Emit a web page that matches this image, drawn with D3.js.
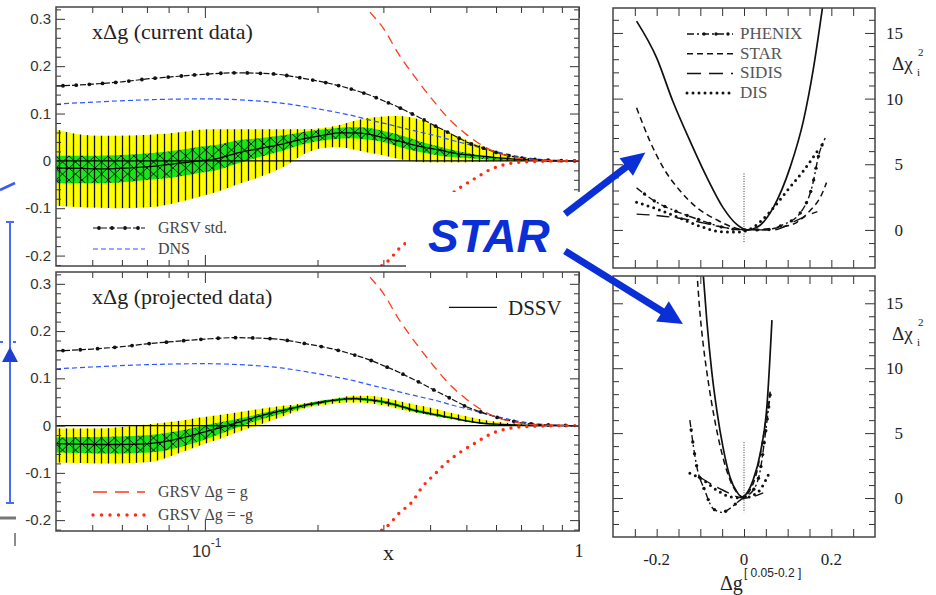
<!DOCTYPE html>
<html>
<head>
<meta charset="utf-8">
<title>x&Delta;g and &Delta;&chi;&sup2; profiles</title>
<script src="https://cdn.jsdelivr.net/npm/d3@7/dist/d3.min.js"></script>
<style>
  body { margin: 0; background: #fff; }
  svg { display: block; }
  text.serif { font-family: "Liberation Serif", "DejaVu Serif", "Times New Roman", serif; }
  text.sans, tspan.sans { font-family: "Liberation Sans", Arial, sans-serif; }
</style>
</head>
<body>
<svg id="chart" width="936" height="595"></svg>
<script>
const bandX = [0.04,0.047,0.052,0.058,0.071,0.087,0.097,0.108,0.124,0.14,0.162,0.187,0.21,0.229,0.25,0.271,0.3,0.33,0.36,0.39,0.425,0.46,0.5,0.55,0.6,0.7,0.8,0.9,1.0];

// current data panel
const curYellowHi = [0.067,0.055,0.053,0.053,0.055,0.061,0.066,0.067,0.067,0.067,0.067,0.067,0.070,0.076,0.084,0.090,0.094,0.095,0.091,0.083,0.070,0.056,0.044,0.031,0.021,0.008,0.003,0.001,0];
const curYellowLo = [-0.095,-0.098,-0.099,-0.100,-0.098,-0.085,-0.075,-0.065,-0.048,-0.034,-0.013,0.017,0.028,0.029,0.024,0.018,0.012,0.004,-0.001,-0.003,-0.003,-0.003,-0.003,-0.002,-0.001,0,0,0,0];
const curGreenHi = [0.011,0.011,0.011,0.012,0.016,0.024,0.030,0.034,0.044,0.048,0.054,0.062,0.067,0.070,0.071,0.070,0.063,0.055,0.046,0.037,0.030,0.023,0.017,0.011,0.007,0.002,0.001,0,0];
const curGreenLo = [-0.047,-0.047,-0.047,-0.046,-0.040,-0.032,-0.025,-0.019,-0.004,0.008,0.022,0.037,0.044,0.047,0.048,0.045,0.040,0.030,0.022,0.016,0.011,0.008,0.006,0.004,0.002,0.001,0,0,0];
const curDssv = [-0.015,-0.016,-0.017,-0.016,-0.012,-0.004,0,0.005,0.018,0.026,0.036,0.048,0.055,0.059,0.059,0.057,0.049,0.042,0.034,0.028,0.023,0.017,0.013,0.010,0.007,0.003,0.001,0,0];

// projected data panel
const projYellowHi = [-0.006,-0.006,-0.006,-0.004,0.003,0.011,0.017,0.022,0.029,0.035,0.042,0.048,0.054,0.059,0.063,0.063,0.059,0.052,0.045,0.040,0.033,0.026,0.020,0.013,0.008,0.003,0.001,0,0];
const projYellowLo = [-0.078,-0.079,-0.080,-0.080,-0.077,-0.056,-0.042,-0.030,-0.012,0.002,0.020,0.038,0.044,0.048,0.049,0.048,0.043,0.035,0.028,0.024,0.018,0.013,0.008,0.004,0.002,0,0,0,0];
const projGreenHi = [-0.025,-0.024,-0.024,-0.023,-0.020,-0.010,-0.002,0.006,0.015,0.025,0.036,0.047,0.054,0.058,0.060,0.058,0.053,0.045,0.036,0.030,0.024,0.018,0.012,0.007,0.004,0.001,0,0,0];
const projGreenLo = [-0.057,-0.058,-0.059,-0.059,-0.057,-0.044,-0.033,-0.020,-0.002,0.012,0.026,0.040,0.048,0.052,0.054,0.052,0.047,0.039,0.030,0.024,0.018,0.014,0.008,0.004,0.002,0.001,0,0,0];
const projDssv = [-0.038,-0.039,-0.040,-0.040,-0.038,-0.026,-0.016,-0.006,0.008,0.020,0.032,0.044,0.051,0.055,0.057,0.055,0.050,0.042,0.033,0.027,0.021,0.016,0.010,0.005,0.003,0.001,0,0,0];

// model curves (same in both panels)
const grsvX = [0.04,0.05,0.06,0.07,0.08,0.1,0.12,0.15,0.19,0.22,0.25,0.28,0.3,0.33,0.35,0.38,0.41,0.44,0.47,0.5,0.55,0.6,0.7,0.8,0.9,1.0];
const grsvY = [0.158,0.162,0.167,0.173,0.177,0.183,0.186,0.184,0.172,0.162,0.150,0.137,0.127,0.113,0.103,0.089,0.075,0.063,0.051,0.040,0.028,0.018,0.006,0.002,0.0005,0];
const dnsX = [0.04,0.05,0.07,0.1,0.13,0.16,0.19,0.22,0.25,0.28,0.31,0.34,0.38,0.42,0.46,0.51,0.56,0.62,0.69,0.77,0.87,1.0];
const dnsY = [0.120,0.124,0.129,0.131,0.128,0.122,0.113,0.104,0.095,0.085,0.077,0.069,0.060,0.052,0.043,0.034,0.025,0.017,0.009,0.004,0.001,0];
const gPosX = [0.18,0.22,0.25,0.27,0.3,0.33,0.37,0.41,0.45,0.5,0.55,0.6,0.68,0.75,0.85,1.0];
const gPosY = [0.52,0.42,0.37,0.325,0.28,0.225,0.17,0.125,0.088,0.056,0.033,0.018,0.007,0.002,0.0005,0];
const gNegX = [0.27,0.29,0.31,0.33,0.36,0.38,0.41,0.44,0.48,0.53,0.58,0.64,0.72,0.8,0.9,1.0];
const gNegY = [-0.26,-0.228,-0.21,-0.186,-0.159,-0.131,-0.104,-0.080,-0.057,-0.036,-0.018,-0.007,-0.002,-0.001,0,0];

// delta chi2 profiles, current data
const totCurX = [-0.246,-0.2,-0.163,-0.124,-0.085,-0.048,-0.016,0.007,0.03,0.067,0.106,0.136,0.159,0.18];
const totCurY = [15.9,13.1,9.8,6.8,4.0,1.7,0.4,0,0.2,1.7,4.8,8.3,12.3,17];
const starCurX = [-0.246,-0.216,-0.186,-0.147,-0.108,-0.062,-0.025,0.007,0.044,0.083,0.122,0.152,0.175,0.189];
const starCurY = [9.3,6.8,4.8,3.0,1.7,0.76,0.2,0,0.05,0.2,0.6,1.5,2.5,3.6];
const phenixCurX = [-0.246,-0.2,-0.154,-0.101,-0.048,-0.002,0.044,0.09,0.129,0.156,0.172,0.186];
const phenixCurY = [3.2,2.1,1.4,0.76,0.2,0,0,0.4,1.3,3.3,5.8,7.0];
const sidisCurX = [-0.246,-0.2,-0.124,-0.048,0.007,0.067,0.113,0.145,0.168];
const sidisCurY = [1.2,1.1,0.76,0.2,0,0,0.6,1.1,1.4];
const disCurX = [-0.246,-0.2,-0.147,-0.094,-0.048,-0.009,0.021,0.06,0.099,0.136,0.17];
const disCurY = [2.1,1.6,0.9,0.2,-0.15,-0.15,0.2,1.4,3.0,4.5,6.1];

// delta chi2 profiles, projected data
const totProjX = [-0.094,-0.085,-0.074,-0.062,-0.048,-0.032,-0.016,-0.005,0.007,0.021,0.037,0.053,0.064];
const totProjY = [17.5,13.6,9.8,6.7,3.9,1.6,0.46,0.08,0.4,1.4,3.4,7.3,13.7];
const starProjX = [-0.108,-0.101,-0.094,-0.082,-0.067,-0.048,-0.032,-0.016,-0.002,0.014,0.03,0.044,0.06];
const starProjY = [17.5,14.3,12,9,6,3.1,1.4,0.4,0.08,0.6,2.1,4.7,8.2];
const phenixProjX = [-0.124,-0.108,-0.09,-0.071,-0.051,-0.032,-0.014,-0.002,0.021,0.037,0.048,0.06];
const phenixProjY = [6,2.4,0.6,-0.8,-1.1,-0.8,-0.3,0,0.6,2.1,4.7,8.0];
const sidisProjX = [-0.101,-0.048,0,0.044];
const sidisProjY = [1.6,0.6,0,0.4];
const disProjX = [-0.124,-0.094,-0.062,-0.032,-0.002,0.03,0.06];
const disProjY = [1.9,1.4,0.6,0.1,0,0.4,2.1];

// tick labels
const pdfYLabels = [-0.2,-0.1,0,0.1,0.2,0.3];
const chiYLabels = [0,5,10,15];
const chiXLabels = [-0.2,0,0.2];

const svg = d3.select('#chart');
const defs = svg.append('defs');

const xLog = d3.scaleLog().domain([0.04, 1]).range([56, 579]);
const yCur = d3.scaleLinear().domain([-0.222, 0.325]).range([266, 7]);
const yProj = d3.scaleLinear().domain([-0.223, 0.325]).range([531, 272]);
const xChi = d3.scaleLinear().domain([-0.3, 0.3]).range([613, 875]);
const yChiCur = d3.scaleLinear().domain([-2.9, 16.9]).range([268, 8]);
const yChiProj = d3.scaleLinear().domain([-3.0, 17.1]).range([537, 276]);

const zip = (xs, ys) => xs.map((x, i) => [x, ys[i]]);

// hatch patterns
let vp = defs.append('pattern').attr('id', 'vhatch').attr('patternUnits', 'userSpaceOnUse')
    .attr('width', 7).attr('height', 10).attr('x', 56);
vp.append('line').attr('x1', 3.5).attr('x2', 3.5).attr('y1', 0).attr('y2', 10)
    .attr('stroke', '#111').attr('stroke-width', 1.3);
let xp = defs.append('pattern').attr('id', 'xhatch').attr('patternUnits', 'userSpaceOnUse')
    .attr('width', 13).attr('height', 12).attr('x', 56);
xp.append('rect').attr('width', 13).attr('height', 12).attr('fill', '#18e618');
xp.append('path').attr('d', 'M0,0L13,12M13,0L0,12').attr('stroke', '#000').attr('stroke-width', 0.8);

let dotsAlong = (g, node, step, offset, r, color) => {
    const len = node.getTotalLength();
    const pts = d3.range(offset, len, step).map(s => node.getPointAtLength(s));
    g.selectAll(null).data(pts).enter().append('circle')
        .attr('cx', p => p.x).attr('cy', p => p.y).attr('r', r).attr('fill', color);
};

// frame + inward ticks on all four sides
let frame = (x, y, o) => {
    const g = svg.append('g');
    const [x0, x1] = x.range(), [yb, yt] = y.range();
    const ticks = (axisFn, scale, values, len, tx, ty) => {
        g.append('g').attr('transform', `translate(${tx},${ty})`)
            .call(axisFn(scale).tickValues(values).tickSize(-len).tickFormat(''))
            .call(a => a.select('.domain').remove())
            .selectAll('line').attr('stroke', '#333').attr('stroke-width', 1);
    };
    ticks(d3.axisLeft, y, o.yMajor, o.yMajorLen, x0, 0);
    ticks(d3.axisLeft, y, o.yMinor, o.yMinorLen, x0, 0);
    ticks(d3.axisRight, y, o.yMajor, o.yMajorLen, x1, 0);
    ticks(d3.axisRight, y, o.yMinor, o.yMinorLen, x1, 0);
    ticks(d3.axisTop, x, o.xMajor, o.xMajorLen, 0, yt);
    ticks(d3.axisTop, x, o.xMinor, o.xMinorLen, 0, yt);
    ticks(d3.axisBottom, x, o.xMajor, o.xMajorLen, 0, yb);
    ticks(d3.axisBottom, x, o.xMinor, o.xMinorLen, 0, yb);
    g.append('rect').attr('x', x0).attr('y', yt).attr('width', x1 - x0).attr('height', yb - yt)
        .attr('fill', 'none').attr('stroke', '#444').attr('stroke-width', 1.5);
};

const pdfTicks = {
    yMajor: pdfYLabels, yMajorLen: 9,
    yMinor: d3.range(-11, 17).map(i => +(i * 0.02).toFixed(2)).filter(v => Math.abs(v * 10 - Math.round(v * 10)) > 1e-6), yMinorLen: 5,
    xMajor: [0.1, 1], xMajorLen: 11,
    xMinor: [0.05,0.06,0.07,0.08,0.09,0.2,0.3,0.4,0.5,0.6,0.7,0.8,0.9], xMinorLen: 6
};
const chiTicks = {
    yMajor: chiYLabels, yMajorLen: 10,
    yMinor: d3.range(-2, 17).filter(v => v % 5 !== 0), yMinorLen: 6,
    xMajor: [-0.2, 0, 0.2], xMajorLen: 8,
    xMinor: [-0.25,-0.15,-0.1,-0.05,0.05,0.1,0.15,0.25], xMinorLen: 8
};

let drawPdfPanel = (y, clipId, band, grsvStep) => {
    const [x0, x1] = xLog.range(), [yb, yt] = y.range();
    defs.append('clipPath').attr('id', clipId).append('rect')
        .attr('x', x0).attr('y', yt).attr('width', x1 - x0).attr('height', yb - yt);
    const body = svg.append('g').attr('clip-path', `url(#${clipId})`);
    const area = d3.area().x(d => xLog(d.x)).y0(d => y(d.lo)).y1(d => y(d.hi)).curve(d3.curveMonotoneX);
    const line = d3.line().x(d => xLog(d[0])).y(d => y(d[1])).curve(d3.curveMonotoneX);
    const outer = bandX.map((x, i) => ({x, lo: band.yellowLo[i], hi: band.yellowHi[i]}));
    const inner = bandX.map((x, i) => ({x, lo: band.greenLo[i], hi: band.greenHi[i]}));

    body.append('path').attr('d', area(outer)).attr('fill', '#ffff00');
    body.append('path').attr('d', area(inner)).attr('fill', 'url(#xhatch)');
    body.append('path').attr('d', area(outer)).attr('fill', 'url(#vhatch)');
    body.append('line').attr('x1', x0).attr('x2', x1).attr('y1', y(0)).attr('y2', y(0))
        .attr('stroke', '#000').attr('stroke-width', 1.2);
    body.append('path').attr('d', line(zip(bandX, band.dssv)))
        .attr('fill', 'none').attr('stroke', '#000').attr('stroke-width', 1.3);

    body.append('path').attr('d', line(zip(dnsX, dnsY)))
        .attr('fill', 'none').attr('stroke', '#2e55ff').attr('stroke-width', 1.2).attr('stroke-dasharray', '5 3');
    const grsv = body.append('path').attr('d', line(zip(grsvX, grsvY)))
        .attr('fill', 'none').attr('stroke', '#111').attr('stroke-width', 1.2).attr('stroke-dasharray', '6 2');
    dotsAlong(body, grsv.node(), grsvStep, 7, 1.9, '#111');

    body.append('path').attr('d', line(zip(gPosX, gPosY)))
        .attr('fill', 'none').attr('stroke', '#ff3a1a').attr('stroke-width', 1.3).attr('stroke-dasharray', '9 6');
    body.append('path').attr('d', line(zip(gNegX, gNegY)))
        .attr('fill', 'none').attr('stroke', '#ff2a10').attr('stroke-width', 3.4)
        .attr('stroke-linecap', 'round').attr('stroke-dasharray', '0 8');

    frame(xLog, y, pdfTicks);

    svg.append('g').selectAll('text').data(pdfYLabels).enter().append('text')
        .attr('class', 'sans').attr('x', 51).attr('y', d => y(d) + 5)
        .attr('text-anchor', 'end').attr('font-size', 15).attr('fill', '#333')
        .text(d => String(d));
};

drawPdfPanel(yCur, 'clipCur', {yellowHi: curYellowHi, yellowLo: curYellowLo, greenHi: curGreenHi, greenLo: curGreenLo, dssv: curDssv}, 13.2);

// the upper panel is partly covered by the STAR label box
svg.append('rect').attr('x', 406).attr('y', 192).attr('width', 206).attr('height', 79).attr('fill', '#fff');

drawPdfPanel(yProj, 'clipProj', {yellowHi: projYellowHi, yellowLo: projYellowLo, greenHi: projGreenHi, greenLo: projGreenLo, dssv: projDssv}, 17.3);

// panel titles
const titles = [['x\u0394g (current data)', yCur], ['x\u0394g (projected data)', yProj]];
titles.forEach(([t, y]) => {
    svg.append('text').attr('class', 'serif').attr('x', 92).attr('y', y.range()[1] + 32)
        .attr('font-size', 22).attr('fill', '#222').text(t);
});

// legends of the left panels
let legendRow = (x, y, label, style) => {
    const p = svg.append('path').attr('d', `M${x},${y}H${x + 52}`).attr('fill', 'none');
    style(p);
    svg.append('text').attr('class', 'serif').attr('x', x + 65).attr('y', y + 5)
        .attr('font-size', 16).attr('fill', '#444').text(label);
    return p;
};
const gl = legendRow(93, 228, 'GRSV std.', p => p.attr('stroke', '#111').attr('stroke-width', 1.2).attr('stroke-dasharray', '6 2'));
dotsAlong(svg, gl.node(), 13, 6, 1.9, '#111');
legendRow(93, 249, 'DNS', p => p.attr('stroke', '#2e55ff').attr('stroke-width', 1.2).attr('stroke-dasharray', '5 3'));
legendRow(93, 492, 'GRSV \u0394g = g', p => p.attr('stroke', '#ff3a1a').attr('stroke-width', 1.3).attr('stroke-dasharray', '14 8'));
legendRow(93, 515, 'GRSV \u0394g = -g', p => p.attr('stroke', '#ff2a10').attr('stroke-width', 3.4).attr('stroke-linecap', 'round').attr('stroke-dasharray', '0 8.5'));

svg.append('line').attr('x1', 449).attr('x2', 497).attr('y1', yProj(0.25)).attr('y2', yProj(0.25))
    .attr('stroke', '#111').attr('stroke-width', 1.2);
svg.append('text').attr('class', 'serif').attr('x', 508).attr('y', yProj(0.25) + 8)
    .attr('font-size', 21).attr('fill', '#222').text('DSSV');

// x axis labels of the lower left panel
const xl = svg.append('text').attr('class', 'sans').attr('x', xLog(0.1) - 13).attr('y', 557)
    .attr('font-size', 17).attr('fill', '#333');
xl.append('tspan').text('10');
xl.append('tspan').attr('dy', -10).attr('font-size', 12).text('-1');
svg.append('text').attr('class', 'serif').attr('x', xLog(0.3) + 5).attr('y', 560)
    .attr('text-anchor', 'middle').attr('font-size', 22).attr('fill', '#222').text('x');
svg.append('text').attr('class', 'serif').attr('x', xLog(1)).attr('y', 557)
    .attr('text-anchor', 'middle').attr('font-size', 18).attr('fill', '#222').text('1');

// right panels
let drawChiPanel = (y, clipId, curves, zeroMark) => {
    const [x0, x1] = xChi.range(), [yb, yt] = y.range();
    defs.append('clipPath').attr('id', clipId).append('rect')
        .attr('x', x0).attr('y', yt).attr('width', x1 - x0).attr('height', yb - yt);
    const body = svg.append('g').attr('clip-path', `url(#${clipId})`);
    const line = d3.line().x(d => xChi(d[0])).y(d => y(d[1])).curve(d3.curveMonotoneX);

    body.append('line').attr('x1', xChi(0)).attr('x2', xChi(0)).attr('y1', y(zeroMark[0])).attr('y2', y(zeroMark[1]))
        .attr('stroke', '#333').attr('stroke-width', 1).attr('stroke-dasharray', '1 1.5');

    body.append('path').attr('d', line(zip(curves.disX, curves.disY))).attr('fill', 'none')
        .attr('stroke', '#111').attr('stroke-width', 3).attr('stroke-linecap', 'round').attr('stroke-dasharray', '0 6');
    body.append('path').attr('d', line(zip(curves.sidisX, curves.sidisY))).attr('fill', 'none')
        .attr('stroke', '#111').attr('stroke-width', 1.4).attr('stroke-dasharray', '13 7');
    const ph = body.append('path').attr('d', line(zip(curves.phenixX, curves.phenixY))).attr('fill', 'none')
        .attr('stroke', '#111').attr('stroke-width', 1.4).attr('stroke-dasharray', '7 3 2 3');
    dotsAlong(body, ph.node(), 12, 10, 1.7, '#111');
    body.append('path').attr('d', line(zip(curves.starX, curves.starY))).attr('fill', 'none')
        .attr('stroke', '#111').attr('stroke-width', 1.5).attr('stroke-dasharray', '6 4');
    body.append('path').attr('d', line(zip(curves.totX, curves.totY))).attr('fill', 'none')
        .attr('stroke', '#111').attr('stroke-width', 1.7);

    frame(xChi, y, chiTicks);

    svg.append('g').selectAll('text').data(chiYLabels).enter().append('text')
        .attr('class', 'serif').attr('x', 903).attr('y', d => y(d) + 6)
        .attr('text-anchor', 'end').attr('font-size', 17).attr('fill', '#222').text(d => String(d));
    const top = y(15) + 37;
    svg.append('text').attr('class', 'serif').attr('x', 892).attr('y', top)
        .attr('font-size', 19).attr('fill', '#222').text('\u0394\u03c7');
    svg.append('text').attr('class', 'serif').attr('x', 918).attr('y', top - 14)
        .attr('font-size', 11).attr('fill', '#222').text('2');
    svg.append('text').attr('class', 'serif').attr('x', 917).attr('y', top + 6)
        .attr('font-size', 11).attr('fill', '#222').text('i');
};

drawChiPanel(yChiCur, 'clipChiCur', {
    totX: totCurX, totY: totCurY, starX: starCurX, starY: starCurY,
    phenixX: phenixCurX, phenixY: phenixCurY, sidisX: sidisCurX, sidisY: sidisCurY,
    disX: disCurX, disY: disCurY
}, [4.3, -1.0]);
drawChiPanel(yChiProj, 'clipChiProj', {
    totX: totProjX, totY: totProjY, starX: starProjX, starY: starProjY,
    phenixX: phenixProjX, phenixY: phenixProjY, sidisX: sidisProjX, sidisY: sidisProjY,
    disX: disProjX, disY: disProjY
}, [4.3, -1.1]);

// legend of the upper right panel
const chiLegend = [
    ['PHENIX', p => p.attr('stroke-width', 1.4).attr('stroke-dasharray', '7 3 2 3'), true],
    ['STAR', p => p.attr('stroke-width', 1.5).attr('stroke-dasharray', '6 4'), false],
    ['SIDIS', p => p.attr('stroke-width', 1.5).attr('stroke-dasharray', '14 8'), false],
    ['DIS', p => p.attr('stroke-width', 3).attr('stroke-linecap', 'round').attr('stroke-dasharray', '0 6'), false]
];
chiLegend.forEach(([label, style, dots], i) => {
    const y = 34 + i * 19.7;
    const p = svg.append('path').attr('d', `M687,${y}H733`).attr('fill', 'none').attr('stroke', '#111');
    style(p);
    if (dots) dotsAlong(svg, p.node(), 12, 17, 1.7, '#111');
    svg.append('text').attr('class', 'serif').attr('x', 740).attr('y', y + 5)
        .attr('font-size', 17).attr('fill', '#555').text(label);
});

// x labels of the lower right panel
svg.append('g').selectAll('text').data(chiXLabels).enter().append('text')
    .attr('class', 'serif').attr('x', d => xChi(d)).attr('y', 565)
    .attr('text-anchor', 'middle').attr('font-size', 17).attr('fill', '#222').text(d => String(d));
const dl = svg.append('text').attr('class', 'serif').attr('x', 720).attr('y', 590)
    .attr('font-size', 20).attr('fill', '#222');
dl.append('tspan').text('\u0394g');
dl.append('tspan').attr('class', 'sans').attr('dy', -13).attr('dx', 1).attr('font-size', 12).text('[ 0.05-0.2 ]');

// STAR label with arrows
const starColor = '#0b2fd6';
svg.append('text').attr('class', 'sans').attr('x', 428).attr('y', 252)
    .attr('font-size', 46).attr('font-weight', 'bold').attr('font-style', 'italic')
    .attr('fill', starColor).text('STAR');

let arrow = (from, tip, headLen, headHalf, width) => {
    const dx = tip[0] - from[0], dy = tip[1] - from[1], L = Math.hypot(dx, dy);
    const ux = dx / L, uy = dy / L;
    const base = [tip[0] - ux * headLen, tip[1] - uy * headLen];
    svg.append('line').attr('x1', from[0]).attr('y1', from[1]).attr('x2', base[0] + ux * 2).attr('y2', base[1] + uy * 2)
        .attr('stroke', starColor).attr('stroke-width', width);
    const pts = [tip, [base[0] - uy * headHalf, base[1] + ux * headHalf], [base[0] + uy * headHalf, base[1] - ux * headHalf]];
    svg.append('polygon').attr('points', pts.map(p => p.join(',')).join(' ')).attr('fill', starColor);
};
arrow([565, 214], [xChi(-0.226), yChiCur(5.9)], 24, 11, 7);
arrow([565, 251], [xChi(-0.14), yChiProj(13.4)], 24, 12, 7);

// leftover pieces of a neighbouring figure at the left edge
const edge = svg.append('g');
edge.append('line').attr('x1', 0).attr('y1', 190).attr('x2', 15).attr('y2', 183).attr('stroke', '#3a5cf0').attr('stroke-width', 2.5);
edge.append('line').attr('x1', 10).attr('y1', 222).attr('x2', 10).attr('y2', 503).attr('stroke', '#4a6cf0').attr('stroke-width', 2);
edge.append('line').attr('x1', 6).attr('y1', 222).attr('x2', 14).attr('y2', 222).attr('stroke', '#4a6cf0').attr('stroke-width', 2);
edge.append('line').attr('x1', 6).attr('y1', 503).attr('x2', 14).attr('y2', 503).attr('stroke', '#4a6cf0').attr('stroke-width', 2);
edge.append('polygon').attr('points', '2,362 18,362 10,347').attr('fill', '#1f3fd0');
edge.append('line').attr('x1', 0).attr('y1', 342).attr('x2', 3).attr('y2', 342).attr('stroke', '#4a6cf0').attr('stroke-width', 2);
edge.append('line').attr('x1', 13).attr('y1', 342).attr('x2', 16).attr('y2', 342).attr('stroke', '#4a6cf0').attr('stroke-width', 2);
edge.append('line').attr('x1', 0).attr('y1', 518).attr('x2', 16).attr('y2', 518).attr('stroke', '#777').attr('stroke-width', 3);
edge.append('line').attr('x1', 15).attr('y1', 533).attr('x2', 15).attr('y2', 546).attr('stroke', '#666').attr('stroke-width', 1.5);
</script>
</body>
</html>
